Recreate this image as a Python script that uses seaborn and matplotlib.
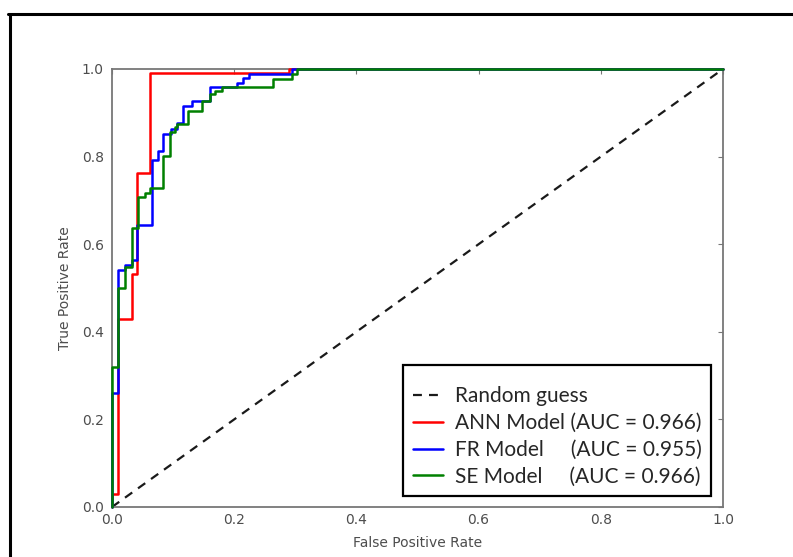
import matplotlib
matplotlib.use("Agg")
import matplotlib.pyplot as plt
from matplotlib.lines import Line2D
import numpy as np
import pandas as pd
import seaborn as sns

# ROC curve corner points (false positive rate, true positive rate)
ann_fpr = [0.0, 0.0, 0.010, 0.010, 0.033, 0.033, 0.041, 0.041, 0.062, 0.062, 0.290, 0.290, 1.0]
ann_tpr = [0.0, 0.030, 0.030, 0.430, 0.430, 0.532, 0.532, 0.762, 0.762, 0.990, 0.990, 1.0, 1.0]

fr_fpr = [0.0, 0.0, 0.010, 0.010, 0.021, 0.021, 0.033, 0.033, 0.041, 0.041, 0.065, 0.065,
          0.075, 0.075, 0.084, 0.084, 0.097, 0.097, 0.106, 0.106, 0.117, 0.117, 0.131, 0.131,
          0.160, 0.160, 0.204, 0.204, 0.215, 0.215, 0.225, 0.225, 0.295, 0.295, 1.0]
fr_tpr = [0.0, 0.260, 0.260, 0.540, 0.540, 0.552, 0.552, 0.564, 0.564, 0.644, 0.644, 0.792,
          0.792, 0.812, 0.812, 0.852, 0.852, 0.864, 0.864, 0.876, 0.876, 0.916, 0.916, 0.927,
          0.927, 0.959, 0.959, 0.968, 0.968, 0.979, 0.979, 0.989, 0.989, 1.0, 1.0]

se_fpr = [0.0, 0.0, 0.010, 0.010, 0.021, 0.021, 0.033, 0.033, 0.042, 0.042, 0.054, 0.054,
          0.062, 0.062, 0.084, 0.084, 0.095, 0.095, 0.103, 0.103, 0.106, 0.106, 0.125, 0.125,
          0.147, 0.147, 0.160, 0.160, 0.169, 0.169, 0.180, 0.180, 0.264, 0.264, 0.295, 0.295,
          0.303, 0.303, 1.0]
se_tpr = [0.0, 0.320, 0.320, 0.500, 0.500, 0.548, 0.548, 0.637, 0.637, 0.708, 0.708, 0.717,
          0.717, 0.728, 0.728, 0.802, 0.802, 0.856, 0.856, 0.868, 0.868, 0.874, 0.874, 0.904,
          0.904, 0.927, 0.927, 0.943, 0.943, 0.950, 0.950, 0.959, 0.959, 0.977, 0.977, 0.989,
          0.989, 1.0, 1.0]

guess_x = [0.0, 1.0]
guess_y = [0.0, 1.0]

labels = ["Random guess",
          "ANN Model (AUC = 0.966)",
          "FR Model     (AUC = 0.955)",
          "SE Model     (AUC = 0.966)"]
colors = ["#1a1a1a", "#ff0000", "#0000ff", "#008000"]
ticks = [0.0, 0.2, 0.4, 0.6, 0.8, 1.0]
tick_labels = ["0.0", "0.2", "0.4", "0.6", "0.8", "1.0"]

sns.set_theme(style="white")
plt.rcParams["font.family"] = ["DejaVu Sans"]

fig = plt.figure(figsize=(7.93, 5.57), dpi=100)
ax = fig.add_axes([112 / 793, 50 / 557, 611 / 793, 438 / 557])

sns.lineplot(x=guess_x, y=guess_y, ax=ax, color=colors[0], lw=1.6,
             dashes=False, linestyle=(0, (4, 3.2)), label=labels[0])
for fx, ty, c, lab in [(ann_fpr, ann_tpr, colors[1], labels[1]),
                       (fr_fpr, fr_tpr, colors[2], labels[2]),
                       (se_fpr, se_tpr, colors[3], labels[3])]:
    df = pd.DataFrame({"fpr": fx, "tpr": ty})
    sns.lineplot(data=df, x="fpr", y="tpr", ax=ax, sort=False, estimator=None,
                 color=c, lw=1.8, label=lab, clip_on=False, zorder=3)

ax.set_xlim(0, 1)
ax.set_ylim(0, 1)
ax.set_xticks(ticks)
ax.set_xticklabels(tick_labels)
ax.set_yticks(ticks)
ax.set_yticklabels(tick_labels)
ax.tick_params(direction="in", length=3.5, width=0.8, color="#777777",
               labelsize=10, labelcolor="#4d4d4d", top=True, right=True)
ax.tick_params(axis="x", pad=4.5)
ax.tick_params(axis="y", pad=6)
for s in ax.spines.values():
    s.set_color("#777777")
    s.set_linewidth(1.3)
ax.set_xlabel("False Positive Rate", fontsize=10, color="#4d4d4d", labelpad=6)
ax.set_ylabel("True Positive Rate", fontsize=10, color="#4d4d4d", labelpad=7)

leg = ax.legend(loc="lower right", bbox_to_anchor=(0.980, 0.025), borderaxespad=0,
                prop={"family": "Lato", "size": 15}, frameon=True, fancybox=False,
                framealpha=1, edgecolor="black", handlelength=1.45,
                handletextpad=0.55, labelspacing=0.33, borderpad=0.45,
                title=" ", title_fontsize=4)
leg.get_frame().set_linewidth(1.6)
leg.set_zorder(5)

# Outer frame around the figure
lw_frame = 2.2
fig.add_artist(Line2D([9.5 / 793, 9.5 / 793], [0, 1 - 13.5 / 557],
                      transform=fig.transFigure, color="black", lw=lw_frame))
fig.add_artist(Line2D([8 / 793, 1], [1 - 13.5 / 557, 1 - 13.5 / 557],
                      transform=fig.transFigure, color="black", lw=lw_frame))

fig.savefig("out.png", dpi=100)
